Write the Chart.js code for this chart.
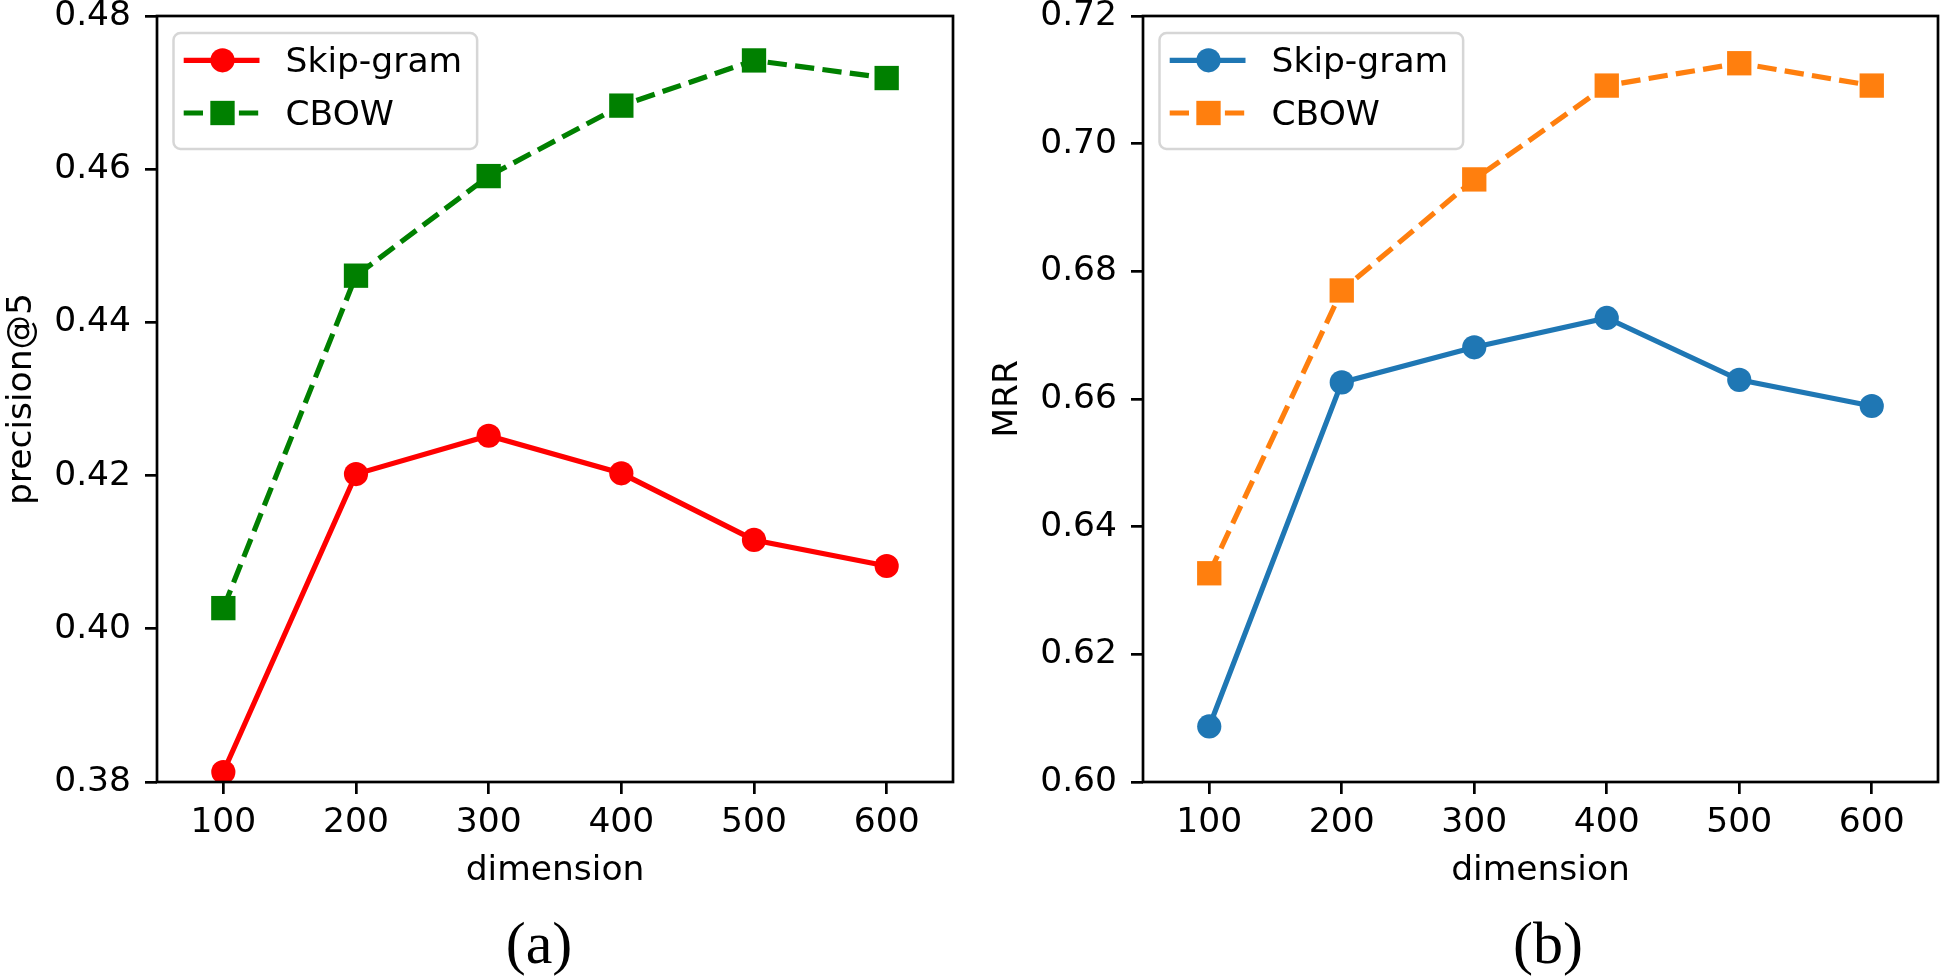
<!DOCTYPE html>
<html>
<head>
<meta charset="utf-8">
<script src="https://cdn.jsdelivr.net/npm/chart.js@4/dist/chart.umd.min.js"></script>
<style>
    html, body { margin: 0; padding: 0; background: #fff; }
    body { width: 1946px; height: 977px; position: relative; overflow: hidden; }
    canvas { position: absolute; top: 0; }
    #chartA { left: 0; }
    #chartB { left: 973px; }
    .caption {
        position: absolute; top: 913px; width: 200px; text-align: center;
        font: 60px/60px "Liberation Serif", "Times New Roman", serif; color: #000;
    }
</style>
</head>
<body>
<canvas id="chartA" width="973" height="900"></canvas>
<canvas id="chartB" width="973" height="900"></canvas>
<div class="caption" style="left:439px">(a)</div>
<div class="caption" style="left:1448px">(b)</div>
<script>
// values
const dimensions = [100, 200, 300, 400, 500, 600];
const precisionSkipGram = [0.3813, 0.4202, 0.4252, 0.4203, 0.4116, 0.4082];
const precisionCbow = [0.4027, 0.4461, 0.4591, 0.4683, 0.4742, 0.4719];
const mrrSkipGram = [0.6087, 0.6626, 0.6681, 0.6727, 0.6630, 0.6589];
const mrrCbow = [0.6327, 0.6770, 0.6944, 0.7091, 0.7126, 0.7091];
const seriesLabels = ['Skip-gram', 'CBOW'];
const xTicks = [100, 200, 300, 400, 500, 600];
const precisionTicks = [0.38, 0.40, 0.42, 0.44, 0.46, 0.48];
const mrrTicks = [0.60, 0.62, 0.64, 0.66, 0.68, 0.70, 0.72];

const FS = 34.5;      // 10pt at the figure dpi
const LW = 5.2;       // 1.5pt lines
const DASH = [19.3, 8.3];
const SPINE = 2.7;

Chart.defaults.font.family = '"DejaVu Sans", sans-serif';
Chart.defaults.color = '#000';

// matplotlib style box around the axes
const framePlugin = {
    id: 'frame',
    afterDatasetsDraw(chart) {
        const a = chart.chartArea, ctx = chart.ctx;
        ctx.save();
        ctx.strokeStyle = '#000';
        ctx.lineWidth = SPINE;
        ctx.strokeRect(a.left, a.top, a.right - a.left, a.bottom - a.top);
        ctx.restore();
    }
};

function roundRectPath(ctx, x, y, w, h, r) {
    ctx.beginPath();
    ctx.moveTo(x + r, y);
    ctx.arcTo(x + w, y, x + w, y + h, r);
    ctx.arcTo(x + w, y + h, x, y + h, r);
    ctx.arcTo(x, y + h, x, y, r);
    ctx.arcTo(x, y, x + w, y, r);
    ctx.closePath();
}

// legend in the upper left corner of the axes, line + marker handles
const legendPlugin = {
    id: 'cornerLegend',
    afterDraw(chart) {
        const a = chart.chartArea, ctx = chart.ctx;
        const datasets = chart.data.datasets;
        ctx.save();
        ctx.font = FS + 'px "DejaVu Sans"';
        const textX = a.left + 128.5;
        const textW = Math.max(...datasets.map(d => ctx.measureText(d.label).width));
        const fx = a.left + 16.5, fy = a.top + 17;
        roundRectPath(ctx, fx, fy, textX + textW + 15 - fx, 116, 7);
        ctx.fillStyle = 'rgba(255,255,255,0.8)';
        ctx.fill();
        ctx.strokeStyle = 'rgba(204,204,204,0.8)';
        ctx.lineWidth = 2.5;
        ctx.stroke();

        datasets.forEach((ds, i) => {
            const cy = a.top + 44.3 + i * 52.7;
            ctx.setLineDash(ds.borderDash || []);
            ctx.strokeStyle = ds.borderColor;
            ctx.lineWidth = ds.borderWidth;
            ctx.beginPath();
            ctx.moveTo(a.left + 26.7, cy);
            ctx.lineTo(a.left + 102.5, cy);
            ctx.stroke();
            ctx.setLineDash([]);
            ctx.fillStyle = ds.pointBackgroundColor;
            const mx = a.left + 65.5;
            if (ds.pointStyle === 'rect') {
                const h = ds.pointRadius * Math.SQRT1_2;
                ctx.fillRect(mx - h, cy - h, 2 * h, 2 * h);
            } else {
                ctx.beginPath();
                ctx.arc(mx, cy, ds.pointRadius, 0, Math.PI * 2);
                ctx.fill();
            }
            ctx.fillStyle = '#000';
            ctx.textBaseline = 'alphabetic';
            ctx.fillText(ds.label, textX, cy + 11.7);
        });
        ctx.restore();
    }
};

function toPoints(values) {
    return dimensions.map((d, i) => ({ x: d, y: values[i] }));
}

function makeChart(canvasId, cfg) {
    const datasets = [
        {
            label: seriesLabels[0], data: toPoints(cfg.skip),
            borderColor: cfg.skipColor, backgroundColor: cfg.skipColor,
            pointBackgroundColor: cfg.skipColor, pointBorderWidth: 0,
            borderWidth: LW, pointStyle: 'circle', pointRadius: 12.1, tension: 0, fill: false
        },
        {
            label: seriesLabels[1], data: toPoints(cfg.cbow),
            borderColor: cfg.cbowColor, backgroundColor: cfg.cbowColor,
            pointBackgroundColor: cfg.cbowColor, pointBorderWidth: 0,
            borderWidth: LW, borderDash: DASH, pointStyle: 'rect', pointRadius: 17.2, tension: 0, fill: false
        }
    ];
    const tickGrid = { drawOnChartArea: false, drawTicks: true, tickLength: 12, color: '#000', lineWidth: SPINE };

    return new Chart(document.getElementById(canvasId), {
        type: 'line',
        data: { datasets },
        options: {
            responsive: false,
            animation: false,
            devicePixelRatio: 1,
            layout: { autoPadding: false, padding: { top: 16, right: cfg.padRight, bottom: 0, left: 0 } },
            plugins: { legend: { display: false }, tooltip: { enabled: false } },
            scales: {
                x: {
                    type: 'linear', min: 50, max: 650,
                    afterBuildTicks: s => { s.ticks = xTicks.map(v => ({ value: v })); },
                    afterFit: s => { s.height = 118; s.paddingLeft = 0; s.paddingRight = 0; },
                    border: { display: false },
                    grid: tickGrid,
                    ticks: { font: { size: FS }, color: '#000', padding: 8, maxRotation: 0, autoSkip: false },
                    title: { display: true, text: 'dimension', font: { size: FS }, color: '#000', padding: { top: 0, bottom: 8 } }
                },
                y: {
                    type: 'linear', min: cfg.yTicks[0], max: cfg.yTicks[cfg.yTicks.length - 1],
                    afterBuildTicks: s => { s.ticks = cfg.yTicks.map(v => ({ value: v })); },
                    afterFit: s => { s.width = cfg.yAxisWidth; s.paddingTop = 0; s.paddingBottom = 0; },
                    border: { display: false },
                    grid: tickGrid,
                    ticks: { font: { size: FS }, color: '#000', padding: 14, autoSkip: false, callback: v => v.toFixed(2) },
                    title: { display: true, text: cfg.yTitle, font: { size: FS }, color: '#000', padding: { top: cfg.yTitlePad, bottom: 0 } }
                }
            }
        },
        plugins: [framePlugin, legendPlugin]
    });
}

makeChart('chartA', {
    skip: precisionSkipGram, cbow: precisionCbow,
    skipColor: '#ff0000', cbowColor: '#008000',
    yTicks: precisionTicks, yTitle: 'precision@5',
    yAxisWidth: 157, padRight: 20, yTitlePad: 1.4
});

makeChart('chartB', {
    skip: mrrSkipGram, cbow: mrrCbow,
    skipColor: '#1f77b4', cbowColor: '#ff7f0e',
    yTicks: mrrTicks, yTitle: 'MRR',
    yAxisWidth: 170, padRight: 8, yTitlePad: 14.4
});
</script>
</body>
</html>
